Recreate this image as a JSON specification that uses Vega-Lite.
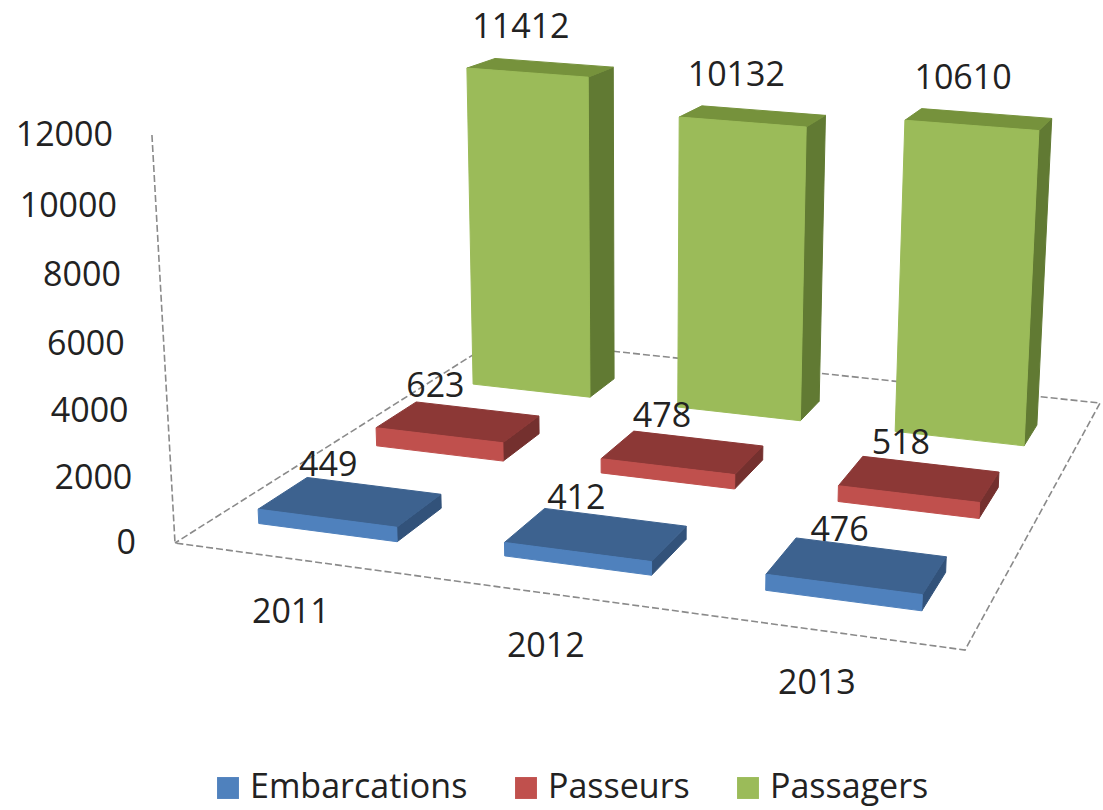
{
"$schema":"https://vega.github.io/schema/vega-lite/v6.json",
"width":1103,"height":810,"padding":0,"autosize":"none","background":"white",
"config":{"view":{"stroke":null},"font":"Open Sans"},
"datasets":{
 "bars":[
  {"year":2011,"series":"Embarcations","value":449},
  {"year":2012,"series":"Embarcations","value":412},
  {"year":2013,"series":"Embarcations","value":476},
  {"year":2011,"series":"Passeurs","value":623},
  {"year":2012,"series":"Passeurs","value":478},
  {"year":2013,"series":"Passeurs","value":518},
  {"year":2011,"series":"Passagers","value":11412},
  {"year":2012,"series":"Passagers","value":10132},
  {"year":2013,"series":"Passagers","value":10610}],
 "ticks":[{"tick":0},{"tick":2000},{"tick":4000},{"tick":6000},{"tick":8000},{"tick":10000},{"tick":12000}],
 "frame":[{"corner":0},{"corner":1},{"corner":2},{"corner":3},{"corner":4},{"corner":5}]
},
"layer":[
 {"data":{"name":"ticks"},
  "transform":[
   {"calculate":"datum.tick/12000","as":"Z"},
   {"calculate":"1-0.04764*datum.Z","as":"w"},
   {"calculate":"(175-30.3*datum.Z)/datum.w","as":"X"},
   {"calculate":"(543-414.4*datum.Z)/datum.w","as":"Y"}],
  "mark":{"type":"text","fontSize":34,"font":"Open Sans","color":"#222222","dx":-39,"dy":1,"baseline":"middle","align":"right"},
  "encoding":{
   "x":{"field":"X","type":"quantitative","scale":{"domain":[0,1103],"range":[0,1103],"nice":false,"zero":false},"axis":null},
   "y":{"field":"Y","type":"quantitative","scale":{"domain":[0,810],"range":[0,810],"nice":false,"zero":false},"axis":null},
   "text":{"field":"tick","type":"quantitative","format":"d"}}},
 {"data":{"name":"frame"},
  "transform":[
   {"calculate":"(datum.corner==2||datum.corner==3)?1:0","as":"u"},
   {"calculate":"(datum.corner==3||datum.corner==4)?1:0","as":"v"},
   {"calculate":"datum.corner==0?1:0","as":"Z"},
   {"calculate":"1-0.08805*datum.u+0.33204*datum.v-0.04764*datum.Z","as":"w"},
   {"calculate":"(705.03*datum.u+488.4*datum.v+175-30.3*datum.Z)/datum.w","as":"X"},
   {"calculate":"(49.8*datum.u-91.4*datum.v+543-414.4*datum.Z)/datum.w","as":"Y"}],
  "mark":{"type":"line","stroke":"#8a8a8a","strokeWidth":1.6,"strokeDash":[7,3]},
  "encoding":{
   "x":{"field":"X","type":"quantitative","scale":{"domain":[0,1103],"range":[0,1103],"nice":false,"zero":false},"axis":null},
   "y":{"field":"Y","type":"quantitative","scale":{"domain":[0,810],"range":[0,810],"nice":false,"zero":false},"axis":null},
   "order":{"field":"corner","type":"ordinal"}}},
 {"data":{"name":"bars"},
  "transform":[
   {"calculate":"(datum.series=='Passagers'&&datum.year==2011?0.162:0.158)+(datum.year-2011)*0.3368","as":"uc"},
   {"calculate":"datum.series=='Passagers'?0.803:(datum.series=='Passeurs'?0.494:0.161)","as":"vc"},
   {"calculate":"datum.series=='Passagers'?0.052:0.065","as":"dv"},
   {"calculate":"datum.value/12000*(datum.series=='Passagers'&&datum.year>2011?1.02:1.005)","as":"H"},
   {"calculate":"[0,1,2,3]","as":"k"},
   {"flatten":["k"]},
   {"calculate":"datum.series+' '+datum.year","as":"bar"}
  ],
  "layer":[
   {"transform":[
     {"calculate":"datum.uc+0.096","as":"u"},
     {"calculate":"datum.vc+((datum.k==1||datum.k==2)?datum.dv:-datum.dv)","as":"v"},
     {"calculate":"datum.k>=2?datum.H:0","as":"Z"},
     {"calculate":"1-0.08805*datum.u+0.33204*datum.v-0.04764*datum.Z","as":"w"},
     {"calculate":"(705.03*datum.u+488.4*datum.v+175-30.3*datum.Z)/datum.w","as":"X"},
     {"calculate":"(49.8*datum.u-91.4*datum.v+543-414.4*datum.Z)/datum.w","as":"Y"}],
    "mark":{"type":"line","strokeWidth":1,"interpolate":"linear-closed"},
    "encoding":{
     "x":{"field":"X","type":"quantitative","scale":{"domain":[0,1103],"range":[0,1103],"nice":false,"zero":false},"axis":null},
     "y":{"field":"Y","type":"quantitative","scale":{"domain":[0,810],"range":[0,810],"nice":false,"zero":false},"axis":null},
     "detail":{"field":"bar"},
     "order":{"field":"k","type":"ordinal"},
     "fill":{"field":"series","type":"nominal","legend":null,"scale":{"domain":["Embarcations","Passeurs","Passagers"],"range":["#32527a","#74302e","#617a33"]}},
     "stroke":{"field":"series","type":"nominal","legend":null,"scale":{"domain":["Embarcations","Passeurs","Passagers"],"range":["#32527a","#74302e","#617a33"]}}}},
   {"transform":[
     {"calculate":"datum.uc+((datum.k==1||datum.k==2)?0.096:-0.096)","as":"u"},
     {"calculate":"datum.vc+(datum.k>=2?datum.dv:-datum.dv)","as":"v"},
     {"calculate":"datum.H","as":"Z"},
     {"calculate":"1-0.08805*datum.u+0.33204*datum.v-0.04764*datum.Z","as":"w"},
     {"calculate":"(705.03*datum.u+488.4*datum.v+175-30.3*datum.Z)/datum.w","as":"X"},
     {"calculate":"(49.8*datum.u-91.4*datum.v+543-414.4*datum.Z)/datum.w","as":"Y"}],
    "mark":{"type":"line","strokeWidth":1,"interpolate":"linear-closed"},
    "encoding":{
     "x":{"field":"X","type":"quantitative","scale":{"domain":[0,1103],"range":[0,1103],"nice":false,"zero":false},"axis":null},
     "y":{"field":"Y","type":"quantitative","scale":{"domain":[0,810],"range":[0,810],"nice":false,"zero":false},"axis":null},
     "detail":{"field":"bar"},
     "order":{"field":"k","type":"ordinal"},
     "fill":{"field":"series","type":"nominal","legend":null,"scale":{"domain":["Embarcations","Passeurs","Passagers"],"range":["#3d628f","#8c3836","#76923c"]}},
     "stroke":{"field":"series","type":"nominal","legend":null,"scale":{"domain":["Embarcations","Passeurs","Passagers"],"range":["#3d628f","#8c3836","#76923c"]}}}},
   {"transform":[
     {"calculate":"datum.uc+((datum.k==1||datum.k==2)?0.096:-0.096)","as":"u"},
     {"calculate":"datum.vc-datum.dv","as":"v"},
     {"calculate":"datum.k>=2?datum.H:0","as":"Z"},
     {"calculate":"1-0.08805*datum.u+0.33204*datum.v-0.04764*datum.Z","as":"w"},
     {"calculate":"(705.03*datum.u+488.4*datum.v+175-30.3*datum.Z)/datum.w","as":"X"},
     {"calculate":"(49.8*datum.u-91.4*datum.v+543-414.4*datum.Z)/datum.w","as":"Y"}],
    "mark":{"type":"line","strokeWidth":1,"interpolate":"linear-closed"},
    "encoding":{
     "x":{"field":"X","type":"quantitative","scale":{"domain":[0,1103],"range":[0,1103],"nice":false,"zero":false},"axis":null},
     "y":{"field":"Y","type":"quantitative","scale":{"domain":[0,810],"range":[0,810],"nice":false,"zero":false},"axis":null},
     "detail":{"field":"bar"},
     "order":{"field":"k","type":"ordinal"},
     "fill":{"field":"series","type":"nominal","legend":null,"scale":{"domain":["Embarcations","Passeurs","Passagers"],"range":["#4f81bd","#c0504d","#9bbb59"]}},
     "stroke":{"field":"series","type":"nominal","legend":null,"scale":{"domain":["Embarcations","Passeurs","Passagers"],"range":["#4f81bd","#c0504d","#9bbb59"]}}}},
   {"transform":[
     {"filter":"datum.k==0"},
     {"calculate":"0.163+(datum.year-2011)*0.34","as":"lu"},
     {"calculate":"(indexof(['Embarcations','Passeurs','Passagers'],datum.series)+0.5)/3","as":"lv"},
     {"calculate":"datum.value/12000*(datum.series=='Passagers'&&datum.year==2011?1.015:1.03)","as":"lz"},
     {"calculate":"1-0.08805*datum.lu+0.33204*datum.lv-0.04764*datum.lz","as":"w"},
     {"calculate":"(705.03*datum.lu+488.4*datum.lv+175-30.3*datum.lz)/datum.w","as":"X"},
     {"calculate":"(49.8*datum.lu-91.4*datum.lv+543-414.4*datum.lz)/datum.w","as":"Y"}],
    "mark":{"type":"text","fontSize":34,"font":"Open Sans","color":"#222222","dx":-28,"dy":-34,"baseline":"middle","align":"center"},
    "encoding":{
     "x":{"field":"X","type":"quantitative","scale":{"domain":[0,1103],"range":[0,1103],"nice":false,"zero":false},"axis":null},
     "y":{"field":"Y","type":"quantitative","scale":{"domain":[0,810],"range":[0,810],"nice":false,"zero":false},"axis":null},
     "text":{"field":"value","type":"quantitative","format":"d"}}},
   {"transform":[
     {"filter":"datum.k==0 && datum.series=='Passagers'"},
     {"calculate":"(datum.year-2011+0.5)/3","as":"lu"},
     {"calculate":"1-0.08805*datum.lu","as":"w"},
     {"calculate":"(705.03*datum.lu+175)/datum.w","as":"X"},
     {"calculate":"(49.8*datum.lu+543)/datum.w","as":"Y"}],
    "mark":{"type":"text","fontSize":34,"font":"Open Sans","color":"#222222","dx":-6,"dy":53,"baseline":"middle","align":"center"},
    "encoding":{
     "x":{"field":"X","type":"quantitative","scale":{"domain":[0,1103],"range":[0,1103],"nice":false,"zero":false},"axis":null},
     "y":{"field":"Y","type":"quantitative","scale":{"domain":[0,810],"range":[0,810],"nice":false,"zero":false},"axis":null},
     "text":{"field":"year","type":"ordinal"}}},
   {"mark":{"type":"point","shape":"square","filled":true,"opacity":0},
    "encoding":{
     "x":{"datum":0,"type":"quantitative","scale":{"domain":[0,1103],"range":[0,1103],"nice":false,"zero":false},"axis":null},
     "y":{"datum":0,"type":"quantitative","scale":{"domain":[0,810],"range":[0,810],"nice":false,"zero":false},"axis":null},
     "color":{"field":"series","type":"nominal",
       "scale":{"domain":["Embarcations","Passeurs","Passagers"],"range":["#4f81bd","#c0504d","#9bbb59"]},
       "legend":{"orient":"none","legendX":211,"legendY":771,"direction":"horizontal","columns":3,"title":null,"symbolType":"square","symbolSize":480,"symbolOpacity":1,"symbolStrokeWidth":0,"labelFontSize":34,"labelFont":"Open Sans","labelColor":"#222222","labelLimit":300,"columnPadding":41,"labelOffset":5}}}}
  ],
  "resolve":{"scale":{"fill":"independent","stroke":"independent"}}
 }
]
}
